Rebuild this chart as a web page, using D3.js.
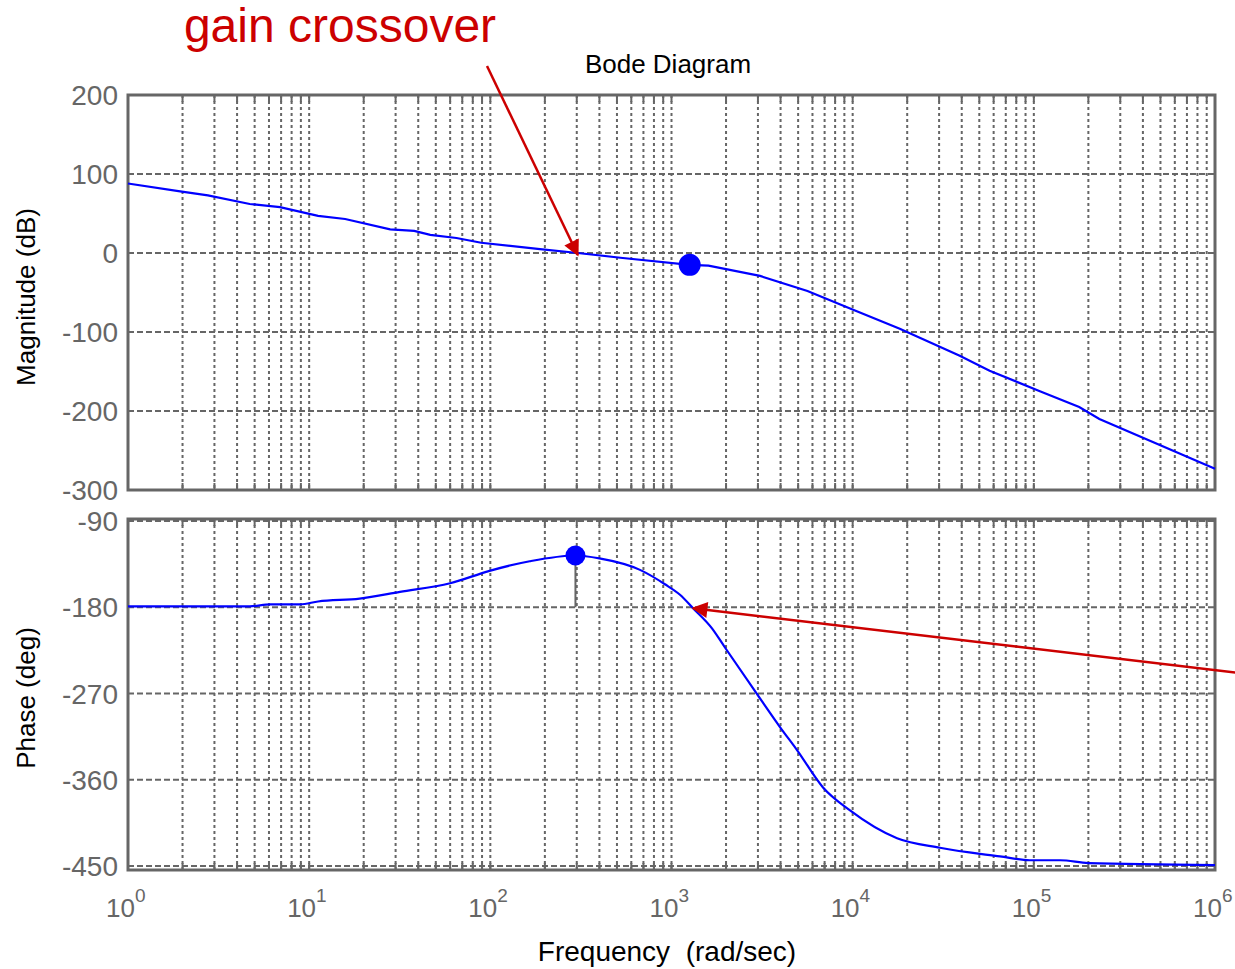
<!DOCTYPE html>
<html>
<head>
<meta charset="utf-8">
<script src="https://cdn.jsdelivr.net/npm/d3@7"></script>
<style>
  body { margin: 0; background: #fff; }
  text { font-family: "Liberation Sans", Arial, sans-serif; }
</style>
</head>
<body>
<div id="chart"></div>
<script>
// data
const magFreq = [1, 1.94, 2.76, 4.7, 6.9, 11.2, 15.8, 28, 38, 46.6, 65, 89, 188, 304, 522, 1260, 1600, 3080, 5630, 9600, 18200, 39000, 57000, 108000, 178000, 230000, 1000000]
const magDb   = [88, 78, 73, 62, 58, 47, 43, 30, 28, 23, 19, 13, 5, 0, -6, -15, -16, -29, -48, -70, -96, -130, -149, -175, -195, -210, -273]

const phaseFreq = [1, 4.7, 6.1, 8.9, 11.2, 19, 31.7, 60, 99, 165, 295, 400, 670, 920, 1114, 1315, 1673, 1973, 3000, 3970, 4930, 6860, 9670, 17580, 30300, 65000, 95000, 140000, 200000, 1000000]
const phaseDeg  = [-179, -179, -177, -177, -174, -171, -164, -155, -142, -132, -126, -129, -141, -156, -167, -181, -202, -222, -272, -305, -329, -368, -392, -421, -431, -440, -444, -444, -447, -449]

const magTicks = [200, 100, 0, -100, -200, -300]
const phaseTicks = [-90, -180, -270, -360, -450]
const decades = [0, 1, 2, 3, 4, 5, 6]

const gainMarker = {f: 1260, v: -15}
const phaseMarker = {f: 295, v: -126}

const width = 1235
const height = 969
const left = 128, right = 1215

const svg = d3.select("#chart").append("svg")
  .attr("width", width).attr("height", height)

const xScale = d3.scaleLog().domain([1, 1e6]).range([left, right])
const yMag = d3.scaleLinear().domain([-300, 200]).range([490, 95])
const yPh = d3.scaleLinear().domain([-450, -90]).range([866, 521])

const defs = svg.append("defs")
defs.append("marker").attr("id", "arrow")
  .attr("viewBox", "0 0 10 10").attr("refX", 9).attr("refY", 5)
  .attr("markerUnits", "userSpaceOnUse")
  .attr("markerWidth", 18).attr("markerHeight", 16).attr("orient", "auto")
  .append("path").attr("d", "M0,0 L10,5 L0,10 z").attr("fill", "#cc0000")

// minor + major freq values for the grid
const gridFreqs = []
for (let e = 0; e < 6; e++) for (let m = 1; m < 10; m++) gridFreqs.push(m * Math.pow(10, e))
gridFreqs.push(1e6)

function panel(yScale, ticks, top, bottom) {
  const g = svg.append("g")
  g.selectAll(".vg").data(gridFreqs).join("line")
    .attr("x1", d => xScale(d)).attr("x2", d => xScale(d))
    .attr("y1", top).attr("y2", bottom)
    .attr("stroke", "#666").attr("stroke-width", 2).attr("stroke-dasharray", "3,3")
  g.selectAll(".hg").data(ticks).join("line")
    .attr("x1", left).attr("x2", right)
    .attr("y1", d => yScale(d)).attr("y2", d => yScale(d))
    .attr("stroke", "#666").attr("stroke-width", 2).attr("stroke-dasharray", "6,3")
  // small inner ticks on top/bottom edges
  g.selectAll(".tb").data(gridFreqs).join("line")
    .attr("x1", d => xScale(d)).attr("x2", d => xScale(d))
    .attr("y1", bottom - 7).attr("y2", bottom)
    .attr("stroke", "#666").attr("stroke-width", 2)
  g.selectAll(".tt").data(gridFreqs).join("line")
    .attr("x1", d => xScale(d)).attr("x2", d => xScale(d))
    .attr("y1", top).attr("y2", top + 7)
    .attr("stroke", "#666").attr("stroke-width", 2)
  g.selectAll(".yl").data(ticks).join("text")
    .attr("x", 118).attr("y", d => yScale(d) + 10)
    .attr("text-anchor", "end").attr("font-size", 28).attr("fill", "#666")
    .text(d => d)
  g.append("rect").attr("x", left).attr("y", top)
    .attr("width", right - left).attr("height", bottom - top)
    .attr("fill", "none").attr("stroke", "#666").attr("stroke-width", 3)
  return g
}

panel(yMag, magTicks, 95, 490)
panel(yPh, phaseTicks, 519, 870)

// x tick labels 10^n
const xl = svg.selectAll(".xl").data(decades).join("text")
  .attr("x", d => xScale(Math.pow(10, d)) - 22).attr("y", 917)
  .attr("font-size", 26).attr("fill", "#666")
xl.append("tspan").text("10")
xl.append("tspan").attr("dy", -15).attr("font-size", 19).text(d => d)

const magData = magFreq.map((f, i) => [f, magDb[i]])
const phData = phaseFreq.map((f, i) => [f, phaseDeg[i]])

svg.append("path").datum(magData)
  .attr("d", d3.line().x(d => xScale(d[0])).y(d => yMag(d[1])))
  .attr("fill", "none").attr("stroke", "#0000ff").attr("stroke-width", 2.2)
svg.append("path").datum(phData)
  .attr("d", d3.line().curve(d3.curveMonotoneX).x(d => xScale(d[0])).y(d => yPh(d[1])))
  .attr("fill", "none").attr("stroke", "#0000ff").attr("stroke-width", 2.2)

// phase margin stem
svg.append("line")
  .attr("x1", xScale(phaseMarker.f)).attr("x2", xScale(phaseMarker.f))
  .attr("y1", yPh(phaseMarker.v)).attr("y2", yPh(-180))
  .attr("stroke", "#666").attr("stroke-width", 2)

svg.append("circle").attr("cx", xScale(gainMarker.f)).attr("cy", yMag(gainMarker.v))
  .attr("r", 11).attr("fill", "#0000ff")
svg.append("circle").attr("cx", xScale(phaseMarker.f)).attr("cy", yPh(phaseMarker.v))
  .attr("r", 10).attr("fill", "#0000ff")

// annotation arrows
svg.append("line").attr("x1", 487).attr("y1", 66)
  .attr("x2", xScale(304)).attr("y2", yMag(0) + 2)
  .attr("stroke", "#cc0000").attr("stroke-width", 2.5).attr("marker-end", "url(#arrow)")
svg.append("line").attr("x1", 1240).attr("y1", 673)
  .attr("x2", 693).attr("y2", yPh(-180) + 1)
  .attr("stroke", "#cc0000").attr("stroke-width", 2.5).attr("marker-end", "url(#arrow)")

// texts
svg.append("text").attr("x", 340).attr("y", 42).attr("text-anchor", "middle")
  .attr("font-size", 48).attr("fill", "#cc0000").text("gain crossover")
svg.append("text").attr("x", 668).attr("y", 73).attr("text-anchor", "middle")
  .attr("font-size", 26).attr("fill", "#000").text("Bode Diagram")
svg.append("text").attr("x", 667).attr("y", 961).attr("text-anchor", "middle")
  .attr("font-size", 28).attr("fill", "#000").attr("xml:space", "preserve")
  .text("Frequency  (rad/sec)")
svg.append("text").attr("transform", "translate(35,297) rotate(-90)")
  .attr("text-anchor", "middle").attr("font-size", 26).attr("fill", "#000")
  .text("Magnitude (dB)")
svg.append("text").attr("transform", "translate(35,698) rotate(-90)")
  .attr("text-anchor", "middle").attr("font-size", 26).attr("fill", "#000")
  .text("Phase (deg)")
</script>
</body>
</html>
